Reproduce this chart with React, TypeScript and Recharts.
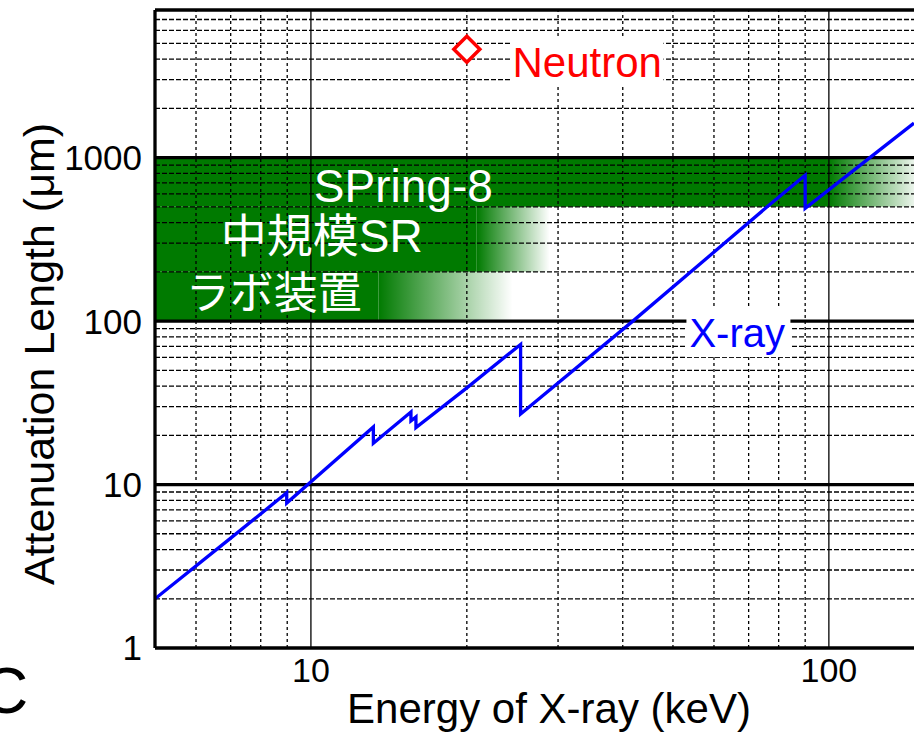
import React from "react";
import {
    ComposedChart,
    Line,
    Scatter,
    XAxis,
    YAxis,
    ReferenceArea,
    ReferenceLine,
} from "recharts";

// X-ray attenuation length; repeated energies are the absorption edges
const xrayEnergy = [5, 7, 8.98, 8.98, 13.2, 13.2, 15.6, 15.6, 15.95, 15.95, 20, 25.4, 25.4, 42, 76, 90, 90, 120, 146];
const xrayLength = [2.0, 4.7, 8.9, 7.7, 22.5, 17.9, 27.8, 24.5, 25.9, 22.3, 39, 72, 27, 101, 500, 780, 490, 1000, 1625];

const neutronEnergy = [20];
const neutronLength = [4600];

// source bands: full green up to solidEnd, then fading out to fadeEnd
const bandNames = ["SPring-8", "中規模SR", "ラボ装置"];
const bandLow = [500, 200, 100];
const bandHigh = [1000, 500, 200];
const bandSolidEnd = [100, 20.9, 13.5];
const bandFadeEnd = [146, 28.9, 24.5];

const xTicks = [10, 100];
const yTicks = [1, 10, 100, 1000];
const xMinor = [6, 7, 8, 9, 20, 30, 40, 50, 60, 70, 80, 90];
const yMinor = [2, 3, 4, 5, 6, 7, 8, 9, 20, 30, 40, 50, 60, 70, 80, 90, 200, 300, 400, 500, 600, 700, 800, 900, 2000, 3000, 4000, 5000, 6000, 7000];
const yMajor = [10, 100, 1000];

const X_DOMAIN = [5, 146];
const Y_DOMAIN = [1, 8000];

const FONT = "'Liberation Sans', Arial, 'Noto Sans CJK JP', sans-serif";
const GREEN = "#007a00";

const xrayData = xrayEnergy.map((e, i) => ({ e, v: xrayLength[i] }));
const neutronData = neutronEnergy.map((e, i) => ({ e, v: neutronLength[i] }));

// where the band names sit (left / baseline, in data units)
const bandLabelAt = [
    { e: 10.13, v: 534, size: 46 },
    { e: 6.7, v: 264, size: 46 },
    { e: 5.73, v: 118, size: 44 },
];

const textShape = (text: string, color: string, size: number, box?: number[]) => (p: any) => (
    <g>
        {box && (
            <rect x={p.cx + box[0]} y={p.cy + box[1]} width={box[2]} height={box[3]} fill="#fff" />
        )}
        <text x={p.cx} y={p.cy} fill={color} fontSize={size} fontFamily={FONT}>
            {text}
        </text>
    </g>
);

const diamond = (p: any) => (
    <path
        d={`M${p.cx},${p.cy - 13} L${p.cx + 13},${p.cy} L${p.cx},${p.cy + 13} L${p.cx - 13},${p.cy} Z`}
        fill="#fff"
        stroke="#ff0000"
        strokeWidth={3.5}
    />
);

export default function App() {
    return (
        <div style={{ position: "absolute", left: 0, top: 0, width: 914, height: 733, background: "#fff" }}>
            <ComposedChart width={914} height={733} margin={{ top: 10, right: 0, bottom: 0, left: 0 }}>
                <defs>
                    <linearGradient id="fadeSpring" x1="0" y1="0" x2="1" y2="0">
                        <stop offset="0" stopColor={GREEN} stopOpacity={1} />
                        <stop offset="1" stopColor={GREEN} stopOpacity={0.08} />
                    </linearGradient>
                    <linearGradient id="fadeOut" x1="0" y1="0" x2="1" y2="0">
                        <stop offset="0" stopColor={GREEN} stopOpacity={1} />
                        <stop offset="1" stopColor={GREEN} stopOpacity={0} />
                    </linearGradient>
                </defs>
                <XAxis
                    dataKey="e"
                    type="number"
                    scale="log"
                    domain={X_DOMAIN}
                    allowDataOverflow
                    ticks={xTicks}
                    interval={0}
                    height={85}
                    tickLine={false}
                    tickSize={6}
                    tickMargin={4}
                    axisLine={{ stroke: "#000", strokeWidth: 3.3 }}
                    tick={{ fill: "#000", fontSize: 34, fontFamily: FONT }}
                />
                <YAxis
                    dataKey="v"
                    type="number"
                    scale="log"
                    domain={Y_DOMAIN}
                    allowDataOverflow
                    ticks={yTicks}
                    interval={0}
                    width={155}
                    tickLine={false}
                    tickSize={6}
                    tickMargin={7}
                    axisLine={{ stroke: "#000", strokeWidth: 3.3 }}
                    tick={{ fill: "#000", fontSize: 35, fontFamily: FONT }}
                />

                {bandNames.map((name, i) => (
                    <ReferenceArea
                        key={`solid-${name}`}
                        x1={X_DOMAIN[0]}
                        x2={bandSolidEnd[i]}
                        y1={bandLow[i]}
                        y2={bandHigh[i]}
                        fill={GREEN}
                        fillOpacity={1}
                        stroke="none"
                        ifOverflow="hidden"
                        zIndex={-300}
                    />
                ))}
                {bandNames.map((name, i) => (
                    <ReferenceArea
                        key={`fade-${name}`}
                        x1={bandSolidEnd[i]}
                        x2={bandFadeEnd[i]}
                        y1={bandLow[i]}
                        y2={bandHigh[i]}
                        fill={i === 0 ? "url(#fadeSpring)" : "url(#fadeOut)"}
                        fillOpacity={1}
                        stroke="none"
                        ifOverflow="hidden"
                        zIndex={-300}
                    />
                ))}

                {yMinor.map((v) => (
                    <ReferenceLine key={`ym-${v}`} y={v} stroke="#000" strokeWidth={1.3} strokeDasharray="5 2" zIndex={-200} />
                ))}
                {xMinor.map((e) => (
                    <ReferenceLine key={`xm-${e}`} x={e} stroke="#000" strokeWidth={1.3} strokeDasharray="3 3" zIndex={-200} />
                ))}
                {xTicks.map((e) => (
                    <ReferenceLine key={`xM-${e}`} x={e} stroke="#000" strokeWidth={1.3} zIndex={-200} />
                ))}
                {yMajor.map((v) => (
                    <ReferenceLine key={`yM-${v}`} y={v} stroke="#000" strokeWidth={3.3} zIndex={-200} />
                ))}
                <ReferenceLine y={Y_DOMAIN[1]} stroke="#000" strokeWidth={3.3} zIndex={-200} />

                {bandNames.map((name, i) => (
                    <Scatter
                        key={`lbl-${name}`}
                        data={[{ e: bandLabelAt[i].e, v: bandLabelAt[i].v }]}
                        dataKey="v"
                        shape={textShape(name, "#fff", bandLabelAt[i].size)}
                        isAnimationActive={false}
                        legendType="none"
                    />
                ))}

                <Line
                    data={xrayData}
                    dataKey="v"
                    type="linear"
                    stroke="#0000ff"
                    strokeWidth={3.3}
                    dot={false}
                    activeDot={false}
                    isAnimationActive={false}
                />

                <Scatter
                    data={[{ e: 53.8, v: 69.3 }]}
                    dataKey="v"
                    shape={textShape("X-ray", "#0000ff", 40, [-3, -40, 104, 50])}
                    isAnimationActive={false}
                    legendType="none"
                />
                <Scatter
                    data={[{ e: 24.5, v: 3100 }]}
                    dataKey="v"
                    shape={textShape("Neutron", "#ff0000", 42, [-2, -41, 153, 50])}
                    isAnimationActive={false}
                    legendType="none"
                />
                <Scatter
                    data={neutronData}
                    dataKey="v"
                    shape={diamond}
                    isAnimationActive={false}
                    legendType="none"
                />
            </ComposedChart>
            <svg
                width={914}
                height={733}
                style={{ position: "absolute", left: 0, top: 0, pointerEvents: "none" }}
            >
                <text x={549} y={723} textAnchor="middle" fontSize={42} fontFamily={FONT} fill="#000">
                    Energy of X-ray (keV)
                </text>
                <text
                    transform="translate(54, 354) rotate(-90)"
                    textAnchor="middle"
                    fontSize={43}
                    fontFamily={FONT}
                    fill="#000"
                >
                    Attenuation Length (μm)
                </text>
                <text x={-18} y={713} fontSize={64} fontFamily={FONT} fill="#000">
                    C
                </text>
            </svg>
        </div>
    );
}
